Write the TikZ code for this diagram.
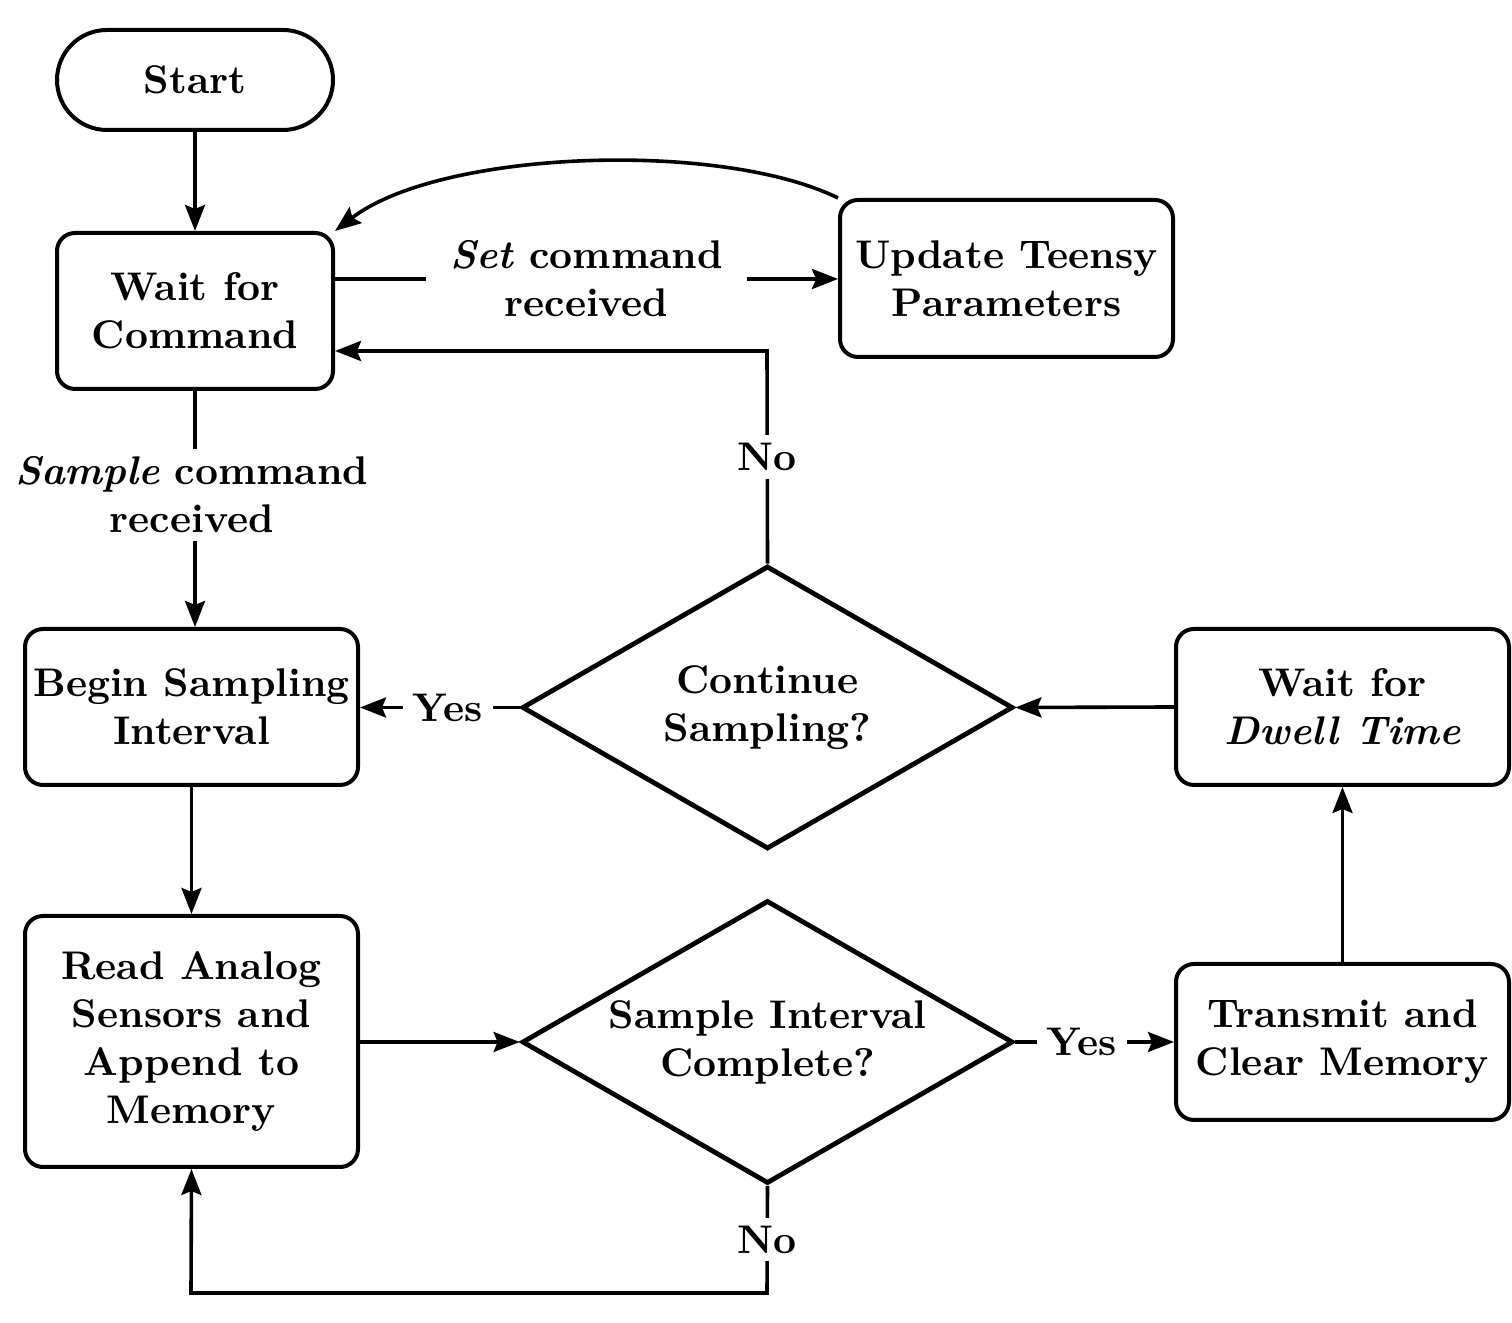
\documentclass[tikz,border=0pt]{standalone}
\usetikzlibrary{shapes.geometric,arrows.meta}
\begin{document}
\begin{tikzpicture}[x=0.25pt,y=-0.25pt,
  every node/.style={font=\bfseries},
  boxst/.style={draw,line width=1pt,rounded corners=4.5pt,align=center,inner sep=0pt},
  termst/.style={draw,line width=1pt,rounded corners=12.5pt,minimum width=69pt,minimum height=25pt,inner sep=0pt},
  decst/.style={draw,diamond,line width=1.2pt,aspect=1.735,minimum width=122.75pt,minimum height=70.75pt,inner sep=0pt,align=center},
  conn/.style={line width=0.9pt,-{Stealth[length=6.5pt,width=5pt,inset=1pt]}},
  lbl/.style={fill=white,align=center,inner sep=2pt}]
\useasboundingbox (0,0) rectangle (1512,1323);
\node[termst] (start) at (195,80) {Start};
\node[boxst,minimum width=69pt,minimum height=39pt] (wait) at (195,311) {Wait for\\Command};
\node[boxst,minimum width=83.25pt,minimum height=39.25pt] (upd) at (1006.5,278.5) {Update Teensy\\Parameters};
\node[boxst,minimum width=83.25pt,minimum height=39pt] (begin) at (191.5,707) {Begin Sampling\\Interval};
\node[boxst,minimum width=83.25pt,minimum height=62.75pt] (read) at (191.5,1041.5) {Read Analog\\Sensors and\\Append to\\Memory};
\node[decst] (cont) at (767.5,707.5) {Continue\\Sampling?};
\node[decst] (samp) at (767.5,1042) {Sample Interval\\Complete?};
\node[boxst,minimum width=83.25pt,minimum height=39pt] (dwell) at (1342.5,707) {Wait for\\\textit{Dwell Time}};
\node[boxst,minimum width=83.25pt,minimum height=39pt] (trans) at (1342.5,1042) {Transmit and\\Clear Memory};
\coordinate (c1) at (767,351);
\coordinate (c2) at (767,1293);
\coordinate (c3) at (191,1293);
\draw[conn] (start) -- (wait);
\draw[conn] (wait.east |- 0,279) -- node[lbl,inner xsep=6pt,pos=0.5] {\textit{Set} command\\received} (upd.west |- 0,279);
\draw[conn] (upd.north west) .. controls (720,140) and (440,150) .. (wait.north east);
\draw[conn] (cont.north) -- node[lbl] {No} (c1) -- (wait.east |- c1);
\draw[conn] (cont.west) -- node[lbl,inner xsep=2.5pt,pos=0.45] {Yes} (begin.east |- cont.west);
\draw[conn] (wait.south) -- node[lbl,pos=0.44,xshift=-0.8pt] {\textit{Sample} command\\received} (wait.south |- begin.north);
\draw[conn] (begin) -- (read);
\draw[conn] (read.east |- samp.west) -- (samp.west);
\draw[conn] (samp.east) -- node[lbl,inner xsep=2.5pt,pos=0.42] {Yes} (trans.west);
\draw[conn] (trans) -- (dwell);
\draw[conn] (dwell.west) -- (cont.east);
\draw[conn] (samp.south) -- node[lbl] {No} (c2) -- (c3) -- (read.south);
\end{tikzpicture}
\end{document}
